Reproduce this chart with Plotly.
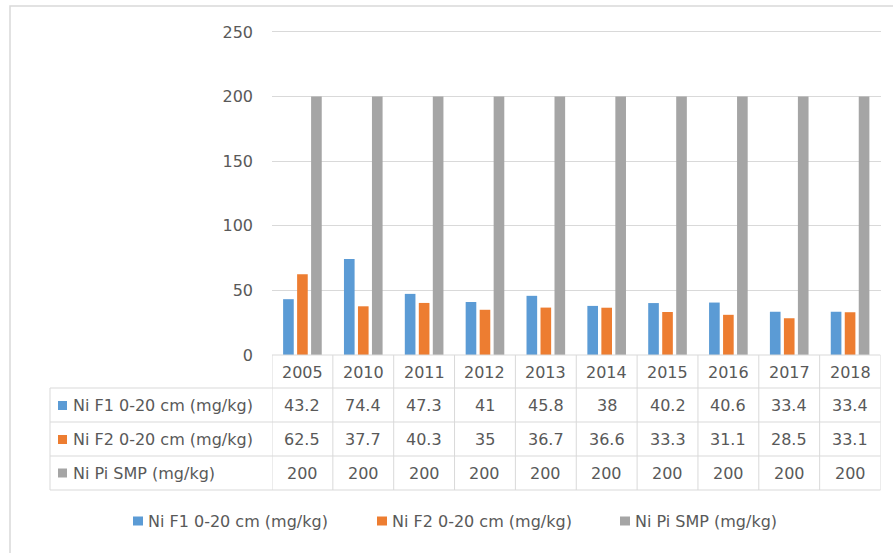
import plotly.graph_objects as go

W, H = 893, 553

years = ["2005", "2010", "2011", "2012", "2013", "2014", "2015", "2016", "2017", "2018"]
ni_f1 = [43.2, 74.4, 47.3, 41, 45.8, 38, 40.2, 40.6, 33.4, 33.4]
ni_f2 = [62.5, 37.7, 40.3, 35, 36.7, 36.6, 33.3, 31.1, 28.5, 33.1]
ni_pi = [200, 200, 200, 200, 200, 200, 200, 200, 200, 200]
series_names = ["Ni F1 0-20 cm (mg/kg)", "Ni F2 0-20 cm (mg/kg)", "Ni Pi SMP (mg/kg)"]
series_values = [ni_f1, ni_f2, ni_pi]
colors = ["#5B9BD5", "#ED7D31", "#A5A5A5"]
y_ticks = [0, 50, 100, 150, 200, 250]
y_max = 252

FONT = "DejaVu Sans"
TXT = "#595959"
LINE = "#d9d9d9"


def X(px):
    return px / W


def Y(py):
    return 1 - py / H


fig = go.Figure()
for name, vals, col in zip(series_names, series_values, colors):
    fig.add_trace(go.Bar(x=years, y=vals, name=name, marker=dict(color=col, line=dict(width=0)),
                         showlegend=False))

shapes = []
annotations = []

# outer chart border
shapes.append(dict(type="rect", xref="paper", yref="paper", x0=X(10), x1=X(905), y0=Y(565), y1=Y(6),
                   line=dict(color=LINE, width=1.5), layer="below"))

# data table
row_tops = [355, 388, 422, 456, 490]
row_centers = [372, 405.5, 439.5, 473]
n = len(years)
for i in range(n + 1):
    shapes.append(dict(type="line", xref="x", yref="paper", x0=i - 0.5, x1=i - 0.5,
                       y0=Y(row_tops[0]), y1=Y(row_tops[-1]), line=dict(color=LINE, width=1)))
shapes.append(dict(type="line", xref="x", yref="paper", x0=-0.5, x1=n - 0.5,
                   y0=Y(row_tops[0]), y1=Y(row_tops[0]), line=dict(color=LINE, width=1)))
for r in row_tops[1:]:
    shapes.append(dict(type="line", xref="paper", yref="paper", x0=X(50), x1=X(880.5),
                       y0=Y(r), y1=Y(r), line=dict(color=LINE, width=1)))
shapes.append(dict(type="line", xref="paper", yref="paper", x0=X(50), x1=X(50),
                   y0=Y(row_tops[1]), y1=Y(row_tops[-1]), line=dict(color=LINE, width=1)))

for i, yr in enumerate(years):
    annotations.append(dict(x=i, xref="x", y=Y(row_centers[0]), yref="paper", text=yr,
                            showarrow=False, xanchor="center", yanchor="middle",
                            font=dict(family=FONT, size=16, color=TXT)))
for k, (name, vals, col) in enumerate(zip(series_names, series_values, colors)):
    cy = row_centers[k + 1]
    shapes.append(dict(type="rect", xref="paper", yref="paper", x0=X(58), x1=X(67),
                       y0=Y(cy + 4.5), y1=Y(cy - 4.5), fillcolor=col, line=dict(width=0)))
    annotations.append(dict(x=X(71), xref="paper", y=Y(cy), yref="paper", text=name,
                            showarrow=False, xanchor="left", yanchor="middle",
                            font=dict(family=FONT, size=16, color=TXT)))
    for i, v in enumerate(vals):
        annotations.append(dict(x=i, xref="x", y=Y(cy), yref="paper", text=f"{v:g}",
                                showarrow=False, xanchor="center", yanchor="middle",
                                font=dict(family=FONT, size=16, color=TXT)))

# legend
leg_y = 521
leg_x = [133, 377, 620]
for name, col, lx in zip(series_names, colors, leg_x):
    shapes.append(dict(type="rect", xref="paper", yref="paper", x0=X(lx), x1=X(lx + 10),
                       y0=Y(leg_y + 4.5), y1=Y(leg_y - 4.5), fillcolor=col, line=dict(width=0)))
    annotations.append(dict(x=X(lx + 13), xref="paper", y=Y(leg_y), yref="paper", text=name,
                            showarrow=False, xanchor="left", yanchor="middle",
                            font=dict(family=FONT, size=16, color=TXT)))

px_per_unit = (355 - 32) / 250.0
top_px = 355 - y_max * px_per_unit

fig.update_layout(
    width=W, height=H,
    margin=dict(l=0, r=0, t=0, b=0, autoexpand=False),
    paper_bgcolor="white", plot_bgcolor="white",
    barmode="group", bargap=0.31, bargroupgap=0.24,
    xaxis=dict(domain=[X(272), X(880.5)], type="category", categoryorder="array",
               categoryarray=years, range=[-0.5, n - 0.5], autorange=False, automargin=False,
               showticklabels=False, showgrid=False, zeroline=False, showline=False, ticks=""),
    yaxis=dict(domain=[Y(355), Y(top_px)], range=[0, y_max], autorange=False, automargin=False,
               tickvals=y_ticks,
               showgrid=True, gridcolor=LINE, gridwidth=1, zeroline=False, showline=False,
               ticks="", ticklabelstandoff=18,
               tickfont=dict(family=FONT, size=16, color=TXT)),
    shapes=shapes,
    annotations=annotations,
    font=dict(family=FONT),
)

fig.write_html("out.html")
